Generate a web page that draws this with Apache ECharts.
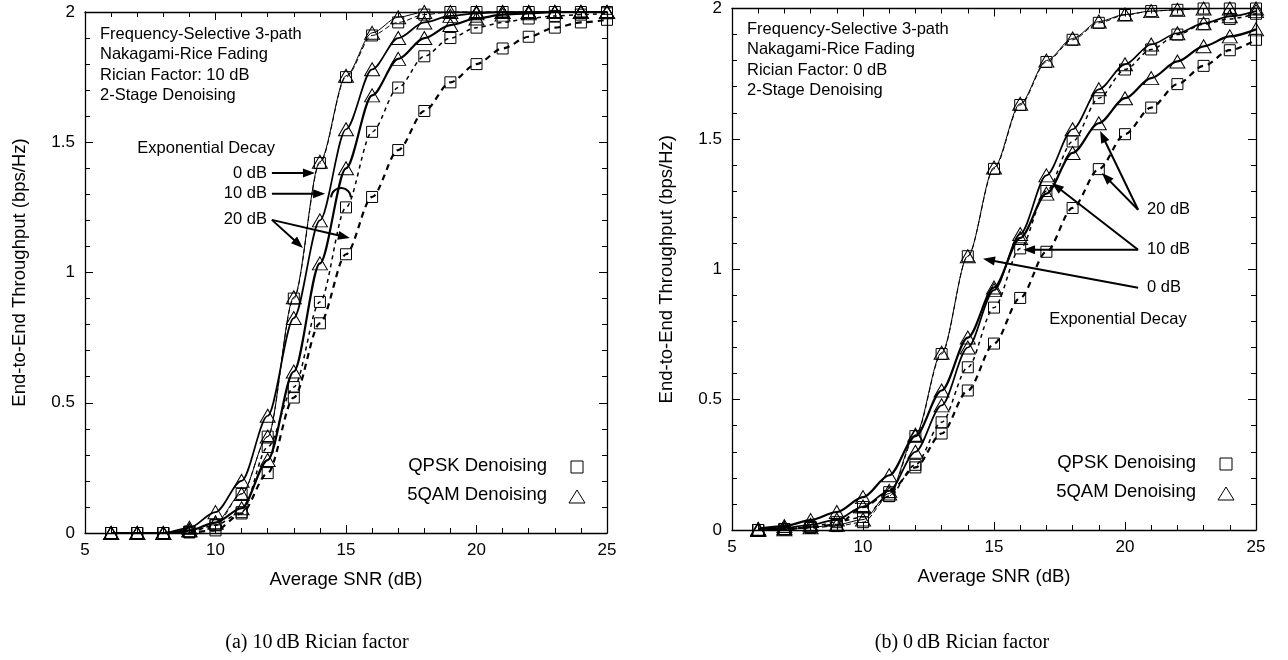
<!DOCTYPE html>
<html><head><meta charset="utf-8">
<script src="https://cdn.jsdelivr.net/npm/echarts@6/dist/echarts.min.js"></script>
<style>html,body{margin:0;padding:0;background:#fff}#c{width:1288px;height:660px}</style>
</head><body><div id="c"></div>
<script>
// ---- data ----
const snr = [6,7,8,9,10,11,12,13,14,15,16,17,18,19,20,21,22,23,24,25];
const xTicks = [5,10,15,20,25];
const yTicks = [0,0.5,1,1.5,2];

// (a) 10 dB Rician factor
const aQpsk0  = [0,0,0,0.005,0.03,0.15,0.37,0.90,1.42,1.75,1.91,1.96,1.99,2.0,2.0,2.0,2.0,2.0,2.0,2.0];
const a5qam0  = [0,0,0,0.01,0.04,0.15,0.37,0.905,1.425,1.755,1.92,1.98,2.0,2.0,2.0,2.0,2.0,2.0,2.0,2.0];
const aQpsk10 = [0,0,0,0.005,0.03,0.08,0.33,0.56,0.887,1.25,1.54,1.71,1.83,1.90,1.94,1.96,1.975,1.985,1.99,1.995];
const a5qam10 = [0,0,0,0.02,0.08,0.20,0.45,0.825,1.20,1.55,1.78,1.90,1.96,1.985,1.995,2.0,2.0,2.0,2.0,2.0];
const aQpsk20 = [0,0,0,0.002,0.01,0.075,0.23,0.52,0.805,1.07,1.29,1.47,1.62,1.73,1.80,1.86,1.905,1.94,1.96,1.97];
const a5qam20 = [0,0,0,0.01,0.04,0.095,0.28,0.62,1.035,1.40,1.68,1.82,1.90,1.95,1.975,1.99,1.995,2.0,2.0,2.0];

// (b) 0 dB Rician factor
const bQpsk0  = [0,0.002,0.008,0.015,0.03,0.13,0.36,0.675,1.05,1.385,1.63,1.795,1.88,1.945,1.975,1.99,1.995,2.0,2.0,2.0];
const b5qam0  = [0,0.003,0.01,0.02,0.04,0.14,0.365,0.68,1.05,1.39,1.635,1.80,1.885,1.95,1.977,1.99,1.995,2.0,2.0,2.0];
const bQpsk10 = [0,0.004,0.012,0.03,0.05,0.13,0.25,0.413,0.624,0.853,1.08,1.30,1.49,1.656,1.766,1.843,1.90,1.94,1.96,1.98];
const b5qam10 = [0.002,0.008,0.02,0.04,0.09,0.15,0.30,0.478,0.70,0.92,1.135,1.36,1.537,1.69,1.786,1.862,1.905,1.943,1.97,1.99];
const bQpsk20 = [0,0.003,0.01,0.02,0.088,0.145,0.24,0.37,0.535,0.715,0.89,1.067,1.235,1.384,1.518,1.62,1.71,1.78,1.84,1.88];
const b5qam20 = [0.005,0.015,0.038,0.069,0.126,0.21,0.36,0.535,0.738,0.93,1.12,1.29,1.446,1.56,1.656,1.733,1.797,1.855,1.893,1.92];

// text
const infoA = ['Frequency-Selective 3-path','Nakagami-Rice Fading','Rician Factor: 10 dB','2-Stage Denoising'];
const infoB = ['Frequency-Selective 3-path','Nakagami-Rice Fading','Rician Factor: 0 dB','2-Stage Denoising'];
const legendNames = ['QPSK Denoising','5QAM Denoising'];
const captions = ['(a) 10\u2009dB Rician factor','(b) 0\u2009dB Rician factor'];
const xName = 'Average SNR (dB)';
const yName = 'End-to-End Throughput (bps/Hz)';

// annotations (data coordinates)
const annA = {
  texts: [['Exponential Decay',9.64,1.475,'center'],['0 dB',11.97,1.382,'right'],['10 dB',11.97,1.302,'right'],['20 dB',11.97,1.202,'right']],
  arrows: [[12.16,1.382,13.81,1.382],[12.16,1.302,14.2,1.302],[12.16,1.202,13.35,1.094],[12.16,1.202,15.15,1.132]],
  arc: [14.81,1.286]
};
const annB = {
  texts: [['20 dB',20.84,1.228,'left'],['10 dB',20.84,1.075,'left'],['0 dB',20.84,0.929,'left'],['Exponential Decay',19.73,0.807,'center']],
  arrows: [[20.5,1.228,19.05,1.53],[20.5,1.228,19.12,1.369],[20.5,1.075,17.21,1.331],[20.5,1.075,16.11,1.075],[20.5,0.929,14.58,1.04]],
  arc: null
};

// ---- chart ----
const SANS = '"Liberation Sans", Arial, Helvetica, sans-serif';
const SERIF = '"Liberation Serif", "Times New Roman", serif';
const grids = [
  {left:85, top:12, width:522, height:521},
  {left:732, top:7, width:524, height:523}
];

function xAx(g, pos){
  const main = pos === 'bottom';
  return {type:'value', gridIndex:g, position:pos, min:xTicks[0], max:xTicks[xTicks.length-1], interval:xTicks[1]-xTicks[0],
    axisLine:{show:true, onZero:false, lineStyle:{color:'#000', width:1.3}},
    axisTick:{show:true, inside:true, length:8, lineStyle:{color:'#000', width:1}},
    minorTick:{show:true, splitNumber:5, length:5, lineStyle:{color:'#000', width:1}},
    splitLine:{show:false},
    axisLabel:{show:main, color:'#000', fontSize:17, fontFamily:SANS, margin:9},
    name: main ? xName : '', nameLocation:'middle', nameGap:37,
    nameTextStyle:{color:'#000', fontSize:18.5, fontFamily:SANS}};
}
function yAx(g, pos){
  const main = pos === 'left';
  return {type:'value', gridIndex:g, position:pos, min:yTicks[0], max:yTicks[yTicks.length-1], interval:yTicks[1]-yTicks[0],
    axisLine:{show:true, onZero:false, lineStyle:{color:'#000', width:1.3}},
    axisTick:{show:true, inside:true, length:8, lineStyle:{color:'#000', width:1}},
    minorTick:{show:true, splitNumber:5, length:5, lineStyle:{color:'#000', width:1}},
    splitLine:{show:false},
    axisLabel:{show:main, color:'#000', fontSize:17, fontFamily:SANS, margin:10},
    name: main ? yName : '', nameLocation:'middle', nameGap:56, nameRotate:90,
    nameTextStyle:{color:'#000', fontSize:18.5, fontFamily:SANS}};
}

function mk(name, g, vals, sym, lw, dash){
  return {type:'line', name, xAxisIndex:g*2, yAxisIndex:g*2,
    data: snr.map((x,i)=>[x, vals[i]]),
    smooth:0.3, smoothMonotone:'x', clip:false,
    symbol: sym==='sq' ? 'rect' : 'triangle',
    symbolSize: sym==='sq' ? [11,11] : [15,13],
    showAllSymbol:true,
    itemStyle:{color:'rgba(0,0,0,0)', borderColor:'#000', borderWidth:1},
    lineStyle:{color:'#000', width:lw, type:dash},
    emphasis:{disabled:true}, silent:true};
}

const series = [
  mk('QPSK 0 dB (a)',0,aQpsk0,'sq',1,[5,3]),
  mk('5QAM 0 dB (a)',0,a5qam0,'tri',1,'solid'),
  mk('QPSK 10 dB (a)',0,aQpsk10,'sq',1.5,[4,4]),
  mk('5QAM 10 dB (a)',0,a5qam10,'tri',1.7,'solid'),
  mk('QPSK 20 dB (a)',0,aQpsk20,'sq',2.2,[6,5]),
  mk('5QAM 20 dB (a)',0,a5qam20,'tri',2.2,'solid'),
  mk('QPSK 0 dB (b)',1,bQpsk0,'sq',1,[5,3]),
  mk('5QAM 0 dB (b)',1,b5qam0,'tri',1,'solid'),
  mk('QPSK 10 dB (b)',1,bQpsk10,'sq',1.5,[4,4]),
  mk('5QAM 10 dB (b)',1,b5qam10,'tri',1.7,'solid'),
  mk('QPSK 20 dB (b)',1,bQpsk20,'sq',2.2,[6,5]),
  mk('5QAM 20 dB (b)',1,b5qam20,'tri',2.2,'solid')
];

const chart = echarts.init(document.getElementById('c'), null, {renderer:'canvas'});
chart.setOption({
  animation:false, backgroundColor:'#fff',
  grid: grids,
  xAxis: [xAx(0,'bottom'), xAx(0,'top'), xAx(1,'bottom'), xAx(1,'top')],
  yAxis: [yAx(0,'left'), yAx(0,'right'), yAx(1,'left'), yAx(1,'right')],
  series
});

// ---- annotations ----
function P(g,x,y){ return chart.convertToPixel({gridIndex:g}, [x,y]); }
const gr = [];
function txt(x,y,t,align,size,fam){
  gr.push({type:'text', x, y, silent:true, style:{text:t, fill:'#000', fontSize:size, fontFamily:fam, align:align, verticalAlign:'middle'}});
}
function arrow(p0,p1){
  const dx=p1[0]-p0[0], dy=p1[1]-p0[1], L=Math.hypot(dx,dy), ux=dx/L, uy=dy/L;
  const hl=12, hw=4.5;
  const bx=p1[0]-ux*hl, by=p1[1]-uy*hl;
  gr.push({type:'line', silent:true, shape:{x1:p0[0],y1:p0[1],x2:bx+ux*2,y2:by+uy*2}, style:{stroke:'#000', lineWidth:2}});
  gr.push({type:'polygon', silent:true, shape:{points:[[p1[0],p1[1]],[bx-uy*hw,by+ux*hw],[bx+uy*hw,by-ux*hw]]}, style:{fill:'#000'}});
}
[annA, annB].forEach((ann,g)=>{
  ann.texts.forEach(t=>{ const p=P(g,t[1],t[2]); txt(p[0],p[1],t[0],t[3],16.5,SANS); });
  ann.arrows.forEach(a=>{ arrow(P(g,a[0],a[1]), P(g,a[2],a[3])); });
  if (ann.arc){ const c=P(g,ann.arc[0],ann.arc[1]);
    gr.push({type:'arc', silent:true, shape:{cx:c[0], cy:c[1], r:10, startAngle:Math.PI*1.02, endAngle:Math.PI*1.98, clockwise:true}, style:{stroke:'#000', lineWidth:2, fill:null}});
  }
  const gd = grids[g];
  const info = g===0 ? infoA : infoB;
  info.forEach((t,i)=> txt(gd.left+15, gd.top+22+i*20.5, t, 'left', 16.5, SANS));
  // legend
  const right = gd.left+gd.width, bottom = gd.top+gd.height;
  txt(right-60, bottom-67, legendNames[0], 'right', 18.5, SANS);
  txt(right-60, bottom-38, legendNames[1], 'right', 18.5, SANS);
  const sx=right-30, sy=bottom-66;
  gr.push({type:'rect', silent:true, shape:{x:sx-6, y:sy-6, width:12, height:12}, style:{fill:null, stroke:'#000', lineWidth:1}});
  const tx=right-30, ty=bottom-36;
  gr.push({type:'polygon', silent:true, shape:{points:[[tx,ty-7],[tx+8,ty+6],[tx-8,ty+6]]}, style:{fill:null, stroke:'#000', lineWidth:1}});
  // caption
  txt(g===0 ? 317 : 962, 643, captions[g], 'center', 20, SERIF);
});
chart.setOption({graphic: gr});
</script>
</body></html>
